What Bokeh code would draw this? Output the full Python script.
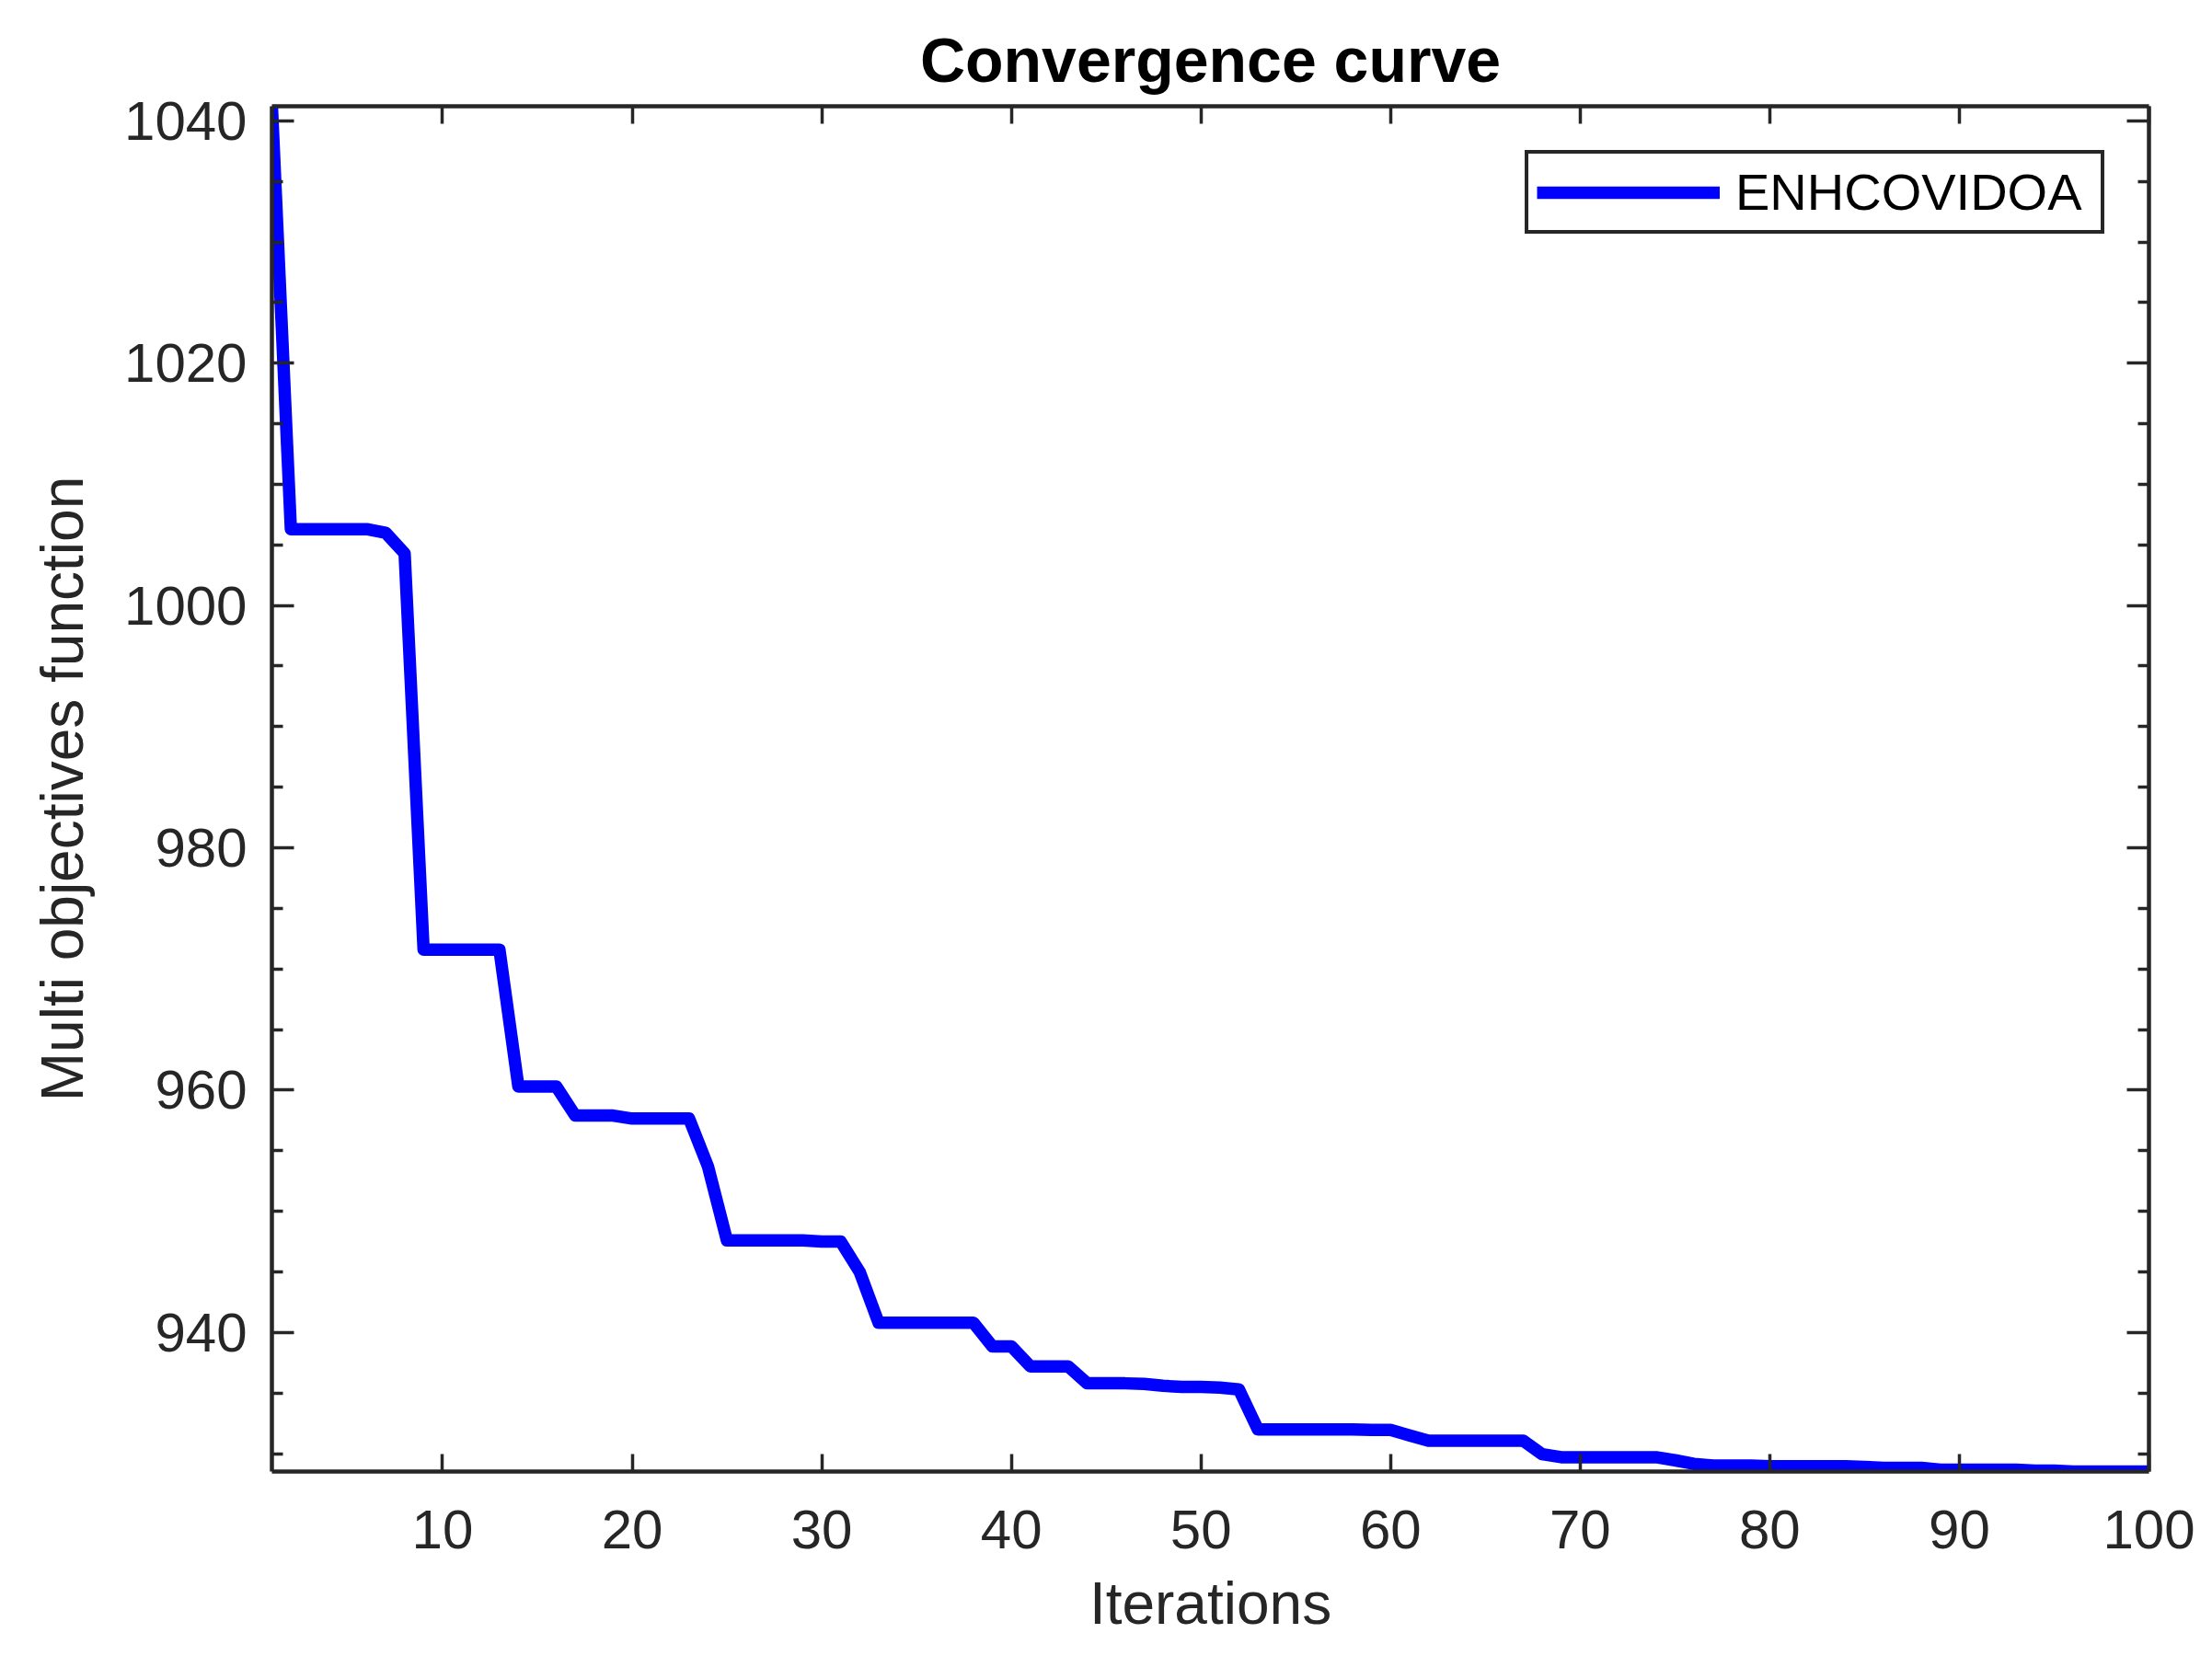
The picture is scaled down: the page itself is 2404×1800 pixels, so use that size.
from bokeh.plotting import figure
from bokeh.models import Range1d, FixedTicker, LinearAxis
from bokeh.embed import file_html
from bokeh.resources import INLINE

# ---- data ----
iterations = list(range(1, 101))
fitness = [
    1041.2, 1006.3, 1006.3, 1006.3, 1006.3, 1006.3, 1006.0, 1004.3, 971.6, 971.6,
    971.6, 971.6, 971.6, 960.3, 960.3, 960.3, 957.9, 957.9, 957.9, 957.65,
    957.65, 957.65, 957.65, 953.7, 947.6, 947.6, 947.6, 947.6, 947.6, 947.5,
    947.5, 945.0, 940.8, 940.8, 940.8, 940.8, 940.8, 940.8, 938.85, 938.85,
    937.2, 937.2, 937.2, 935.8, 935.8, 935.8, 935.75, 935.6, 935.5, 935.5,
    935.45, 935.3, 932.0, 932.0, 932.0, 932.0, 932.0, 932.0, 931.95, 931.95,
    931.5, 931.07, 931.07, 931.07, 931.07, 931.07, 931.07, 929.95, 929.7, 929.7,
    929.7, 929.7, 929.7, 929.7, 929.45, 929.15, 929.02, 929.02, 929.02, 928.95,
    928.95, 928.95, 928.95, 928.95, 928.9, 928.83, 928.83, 928.83, 928.67, 928.67,
    928.67, 928.67, 928.67, 928.6, 928.6, 928.52, 928.52, 928.52, 928.52, 928.52,
]
series_name = "ENHCOVIDOA"
x_ticks = [10, 20, 30, 40, 50, 60, 70, 80, 90, 100]
y_ticks = [940, 960, 980, 1000, 1020, 1040]
y_minor = [930, 935, 945, 950, 955, 965, 970, 975, 985, 990, 995,
           1005, 1010, 1015, 1025, 1030, 1035]

FONT = "Liberation Sans"
AX = "#262626"

p = figure(width=2388, height=1784,
           x_range=Range1d(1, 100), y_range=Range1d(min(fitness), max(fitness)),
           output_backend="svg", toolbar_location=None,
           min_border_left=295, min_border_right=53,
           min_border_top=115, min_border_bottom=185)
p.background_fill_color = "white"
p.border_fill_color = "white"
p.outline_line_color = None
p.xgrid.visible = False
p.ygrid.visible = False

p.line(iterations, fitness, line_color="#0000FF", line_width=13.5,
       line_join="round", legend_label=series_name)

def style_axis(ax, tick_in, minor_in, show_labels):
    ax.axis_line_color = AX
    ax.axis_line_width = 4.5
    ax.major_tick_line_color = AX
    ax.major_tick_line_width = 3.5
    ax.major_tick_in = tick_in
    ax.major_tick_out = 0
    ax.minor_tick_line_color = AX
    ax.minor_tick_line_width = 3.5
    ax.minor_tick_in = minor_in
    ax.minor_tick_out = 0
    ax.major_label_text_font = FONT
    ax.major_label_text_color = AX
    if show_labels:
        ax.major_label_text_font_size = "60px"
    else:
        ax.major_label_text_font_size = "0px"
        ax.major_label_text_alpha = 0
        ax.major_label_standoff = 0

xt = FixedTicker(ticks=x_ticks, minor_ticks=[])
yt = FixedTicker(ticks=y_ticks, minor_ticks=y_minor)

xa = p.xaxis[0]
xa.ticker = xt
style_axis(xa, 19, 0, True)
xa.major_label_standoff = 42
xa.axis_label = "Iterations"
xa.axis_label_text_font = FONT
xa.axis_label_text_font_style = "normal"
xa.axis_label_text_font_size = "64px"
xa.axis_label_text_color = AX
xa.axis_label_standoff = 21

ya = p.yaxis[0]
ya.ticker = yt
style_axis(ya, 24, 12, True)
ya.major_label_standoff = 27
ya.axis_label = "Multi objectives function"
ya.axis_label_text_font = FONT
ya.axis_label_text_font_style = "normal"
ya.axis_label_text_font_size = "64px"
ya.axis_label_text_color = AX
ya.axis_label_standoff = 28

top = LinearAxis(ticker=FixedTicker(ticks=x_ticks, minor_ticks=[]))
style_axis(top, 19, 0, False)
p.add_layout(top, "above")

right = LinearAxis(ticker=FixedTicker(ticks=y_ticks, minor_ticks=y_minor))
style_axis(right, 24, 12, False)
p.add_layout(right, "right")

p.title.text = "Convergence curve"
p.title.align = "center"
p.title.text_font = FONT
p.title.text_font_style = "bold"
p.title.text_font_size = "68px"
p.title.text_color = "#000000"
p.title.standoff = 25

lg = p.legend[0]
lg.location = "top_right"
lg.margin = 48
lg.padding = 9
lg.spacing = 0
lg.glyph_width = 199
lg.glyph_height = 40
lg.label_standoff = 17
lg.label_width = 388
lg.label_text_font = FONT
lg.label_text_font_size = "56px"
lg.label_text_color = "#000000"
lg.border_line_color = AX
lg.border_line_width = 4.5
lg.border_line_alpha = 1.0
lg.background_fill_color = "white"
lg.background_fill_alpha = 1.0

open("out.html", "w").write(file_html(p, INLINE))
